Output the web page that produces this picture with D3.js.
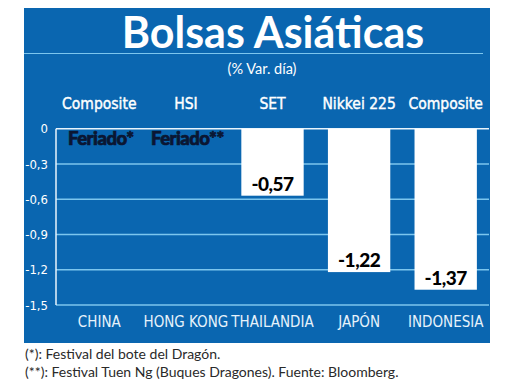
<!DOCTYPE html>
<html><head><meta charset="utf-8">
<script src="https://cdn.jsdelivr.net/npm/d3@7"></script>
<style>
body{margin:0;background:#fff;}
svg{display:block;}
</style></head>
<body>
<svg id="c" width="520" height="390"></svg>
<script>
const countries = ["CHINA","HONG KONG","THAILANDIA","JAPÓN","INDONESIA"];
const indices = ["Composite","HSI","SET","Nikkei 225","Composite"];
const values = [null,null,-0.57,-1.22,-1.37];
const valueLabels = ["Feriado*","Feriado**","-0,57","-1,22","-1,37"];
const yTicks = [0,-0.3,-0.6,-0.9,-1.2,-1.5];
const yTickLabels = ["0","-0,3","-0,6","-0,9","-1,2","-1,5"];
const title = "Bolsas Asiáticas";
const subtitle = "(% Var. día)";
const notes = ["(*): Festival del bote del Dragón.","(**): Festival Tuen Ng (Buques Dragones). Fuente: Bloomberg."];

const svg = d3.select("#c");
const blue = "#0a66b0", grid = "#7cc6ee";
const narrow = "'Liberation Sans Narrow','DejaVu Sans Condensed',sans-serif";
const human = "Lato,'Open Sans',sans-serif";

svg.append("rect").attr("x",24).attr("y",8).attr("width",466).attr("height",335).attr("fill",blue);
svg.append("text").attr("x",273).attr("y",48).attr("text-anchor","middle")
  .attr("font-family",human).attr("font-weight","bold").attr("font-size",43)
  .attr("fill","#fff").text(title);
svg.append("line").attr("x1",24).attr("x2",483).attr("y1",53.5).attr("y2",53.5).attr("stroke",grid).attr("stroke-width",1.2);
svg.append("text").attr("x",262).attr("y",74).attr("text-anchor","middle")
  .attr("font-family",human).attr("font-size",14.5).attr("fill","#fff").text(subtitle);

const x = d3.scaleBand().domain(d3.range(countries.length)).range([56,489]).paddingInner(0.28).paddingOuter(0.14);
const y = d3.scaleLinear().domain([0,-1.5]).range([128.7,305]);

// grid
svg.append("g").selectAll("line").data(yTicks).join("line")
  .attr("x1",56).attr("x2",489).attr("y1",d=>y(d)).attr("y2",d=>y(d))
  .attr("stroke",d=>d===0?"#e8f4fc":grid).attr("stroke-width",1.5);
svg.append("line").attr("x1",56).attr("x2",56).attr("y1",y(0)).attr("y2",y(-1.5)).attr("stroke","#e8f4fc").attr("stroke-width",1.5);

// y axis labels
const yAxis = d3.axisLeft(y).tickValues(yTicks).tickFormat((d,i)=>yTickLabels[i]).tickSize(0).tickPadding(8);
const ga = svg.append("g").attr("transform","translate(56,0)").call(yAxis);
ga.select(".domain").remove();
ga.selectAll("text").attr("font-family",narrow).attr("font-size",13).attr("fill","#fff");

// bars
const idx = d3.range(countries.length);
svg.append("g").selectAll("rect").data(idx.filter(i=>values[i]!==null)).join("rect")
  .attr("x",i=>x(i)).attr("width",x.bandwidth())
  .attr("y",y(0)).attr("height",i=>y(values[i])-y(0)).attr("fill","#fff");

// labels
svg.append("g").selectAll("text").data(idx).join("text")
  .attr("x",i=>x(i)+x.bandwidth()/2 + (values[i]===null?1.5:0))
  .attr("y",i=>values[i]===null?145:y(values[i])-5)
  .attr("text-anchor","middle")
  .attr("font-family",human)
  .attr("font-weight","900").attr("font-size",i=>values[i]===null?18.5:19)
  .attr("letter-spacing",-0.5)
  .attr("fill",i=>values[i]===null?"#0a1633":"#000")
  .attr("stroke",i=>values[i]===null?"#0a1633":"none")
  .attr("stroke-width",0.7)
  .text(i=>valueLabels[i]);

// headers
svg.append("g").selectAll("text").data(idx).join("text")
  .attr("x",i=>x(i)+x.bandwidth()/2).attr("y",109).attr("text-anchor","middle")
  .attr("font-family",narrow).attr("font-size",15.5).attr("fill","#fff")
  .attr("stroke","#fff").attr("stroke-width",0.4).text(i=>indices[i]);
svg.append("g").selectAll("text").data(idx).join("text")
  .attr("x",i=>x(i)+x.bandwidth()/2).attr("y",327).attr("text-anchor","middle")
  .attr("font-family",narrow).attr("font-size",15).attr("fill","#e6f2fb").text(i=>countries[i]);

// notes
svg.append("g").selectAll("text").data(notes).join("text")
  .attr("x",25).attr("y",(d,i)=>359+i*18)
  .attr("font-family",human).attr("font-size",14).attr("fill","#2a2a2a").text(d=>d);
</script>
</body></html>
